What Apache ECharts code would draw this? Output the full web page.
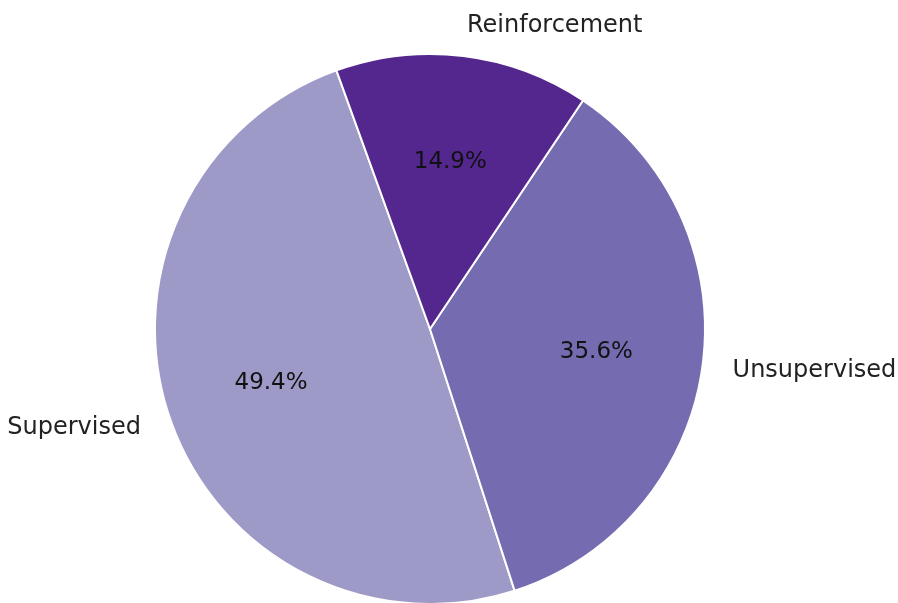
<!DOCTYPE html>
<html>
<head>
<meta charset="utf-8">
<script src="https://cdn.jsdelivr.net/npm/echarts@6/dist/echarts.min.js"></script>
<style>
  html, body { margin: 0; padding: 0; background: #fff; }
  #main { width: 898px; height: 603px; }
</style>
</head>
<body>
<div id="main"></div>
<script>
var categories = ['Supervised', 'Unsupervised', 'Reinforcement']
var shares = [49.4, 35.6, 14.9]
var colors = ['#9e9ac8', '#756bb1', '#54278f']

var cx = 430, cy = 329, R = 275
var fontFamily = '"DejaVu Sans", sans-serif'

var pieData = categories.map(function (name, i) {
    return { name: name, value: shares[i], itemStyle: { color: colors[i] } }
})
var ghostData = categories.map(function (name, i) {
    return { name: name, value: shares[i] }
})

var chart = echarts.init(document.getElementById('main'))
chart.setOption({
    animation: false,
    series: [
        {
            // the actual wedges
            type: 'pie',
            center: [cx, cy],
            radius: [0, R],
            startAngle: 109.9,
            clockwise: false,
            silent: true,
            itemStyle: { borderColor: '#fff', borderWidth: 2 },
            label: { show: false },
            labelLine: { show: false },
            data: pieData
        },
        {
            // transparent pie, inner label lands at 0.6 R
            type: 'pie',
            center: [cx, cy],
            radius: [0, R * 1.2],
            startAngle: 109.9,
            clockwise: false,
            silent: true,
            itemStyle: { color: 'rgba(0,0,0,0)' },
            label: {
                show: true,
                position: 'inside',
                formatter: function (p) { return p.value.toFixed(1) + '%' },
                color: '#111',
                fontSize: 23,
                fontFamily: fontFamily
            },
            labelLine: { show: false },
            data: ghostData
        },
        {
            // transparent pie, category label at 1.1 R, aligned away from center
            type: 'pie',
            center: [cx, cy],
            radius: [0, R * 2.2],
            startAngle: 109.9,
            clockwise: false,
            silent: true,
            itemStyle: { color: 'rgba(0,0,0,0)' },
            label: {
                show: true,
                position: 'inside',
                formatter: '{b}',
                color: '#222',
                fontSize: 24,
                fontFamily: fontFamily
            },
            labelLine: { show: false },
            labelLayout: function (params) {
                var r = params.labelRect
                var mid = r.x + r.width / 2
                return { dx: mid < cx ? -r.width / 2 : r.width / 2 }
            },
            data: ghostData
        }
    ]
})
</script>
</body>
</html>
